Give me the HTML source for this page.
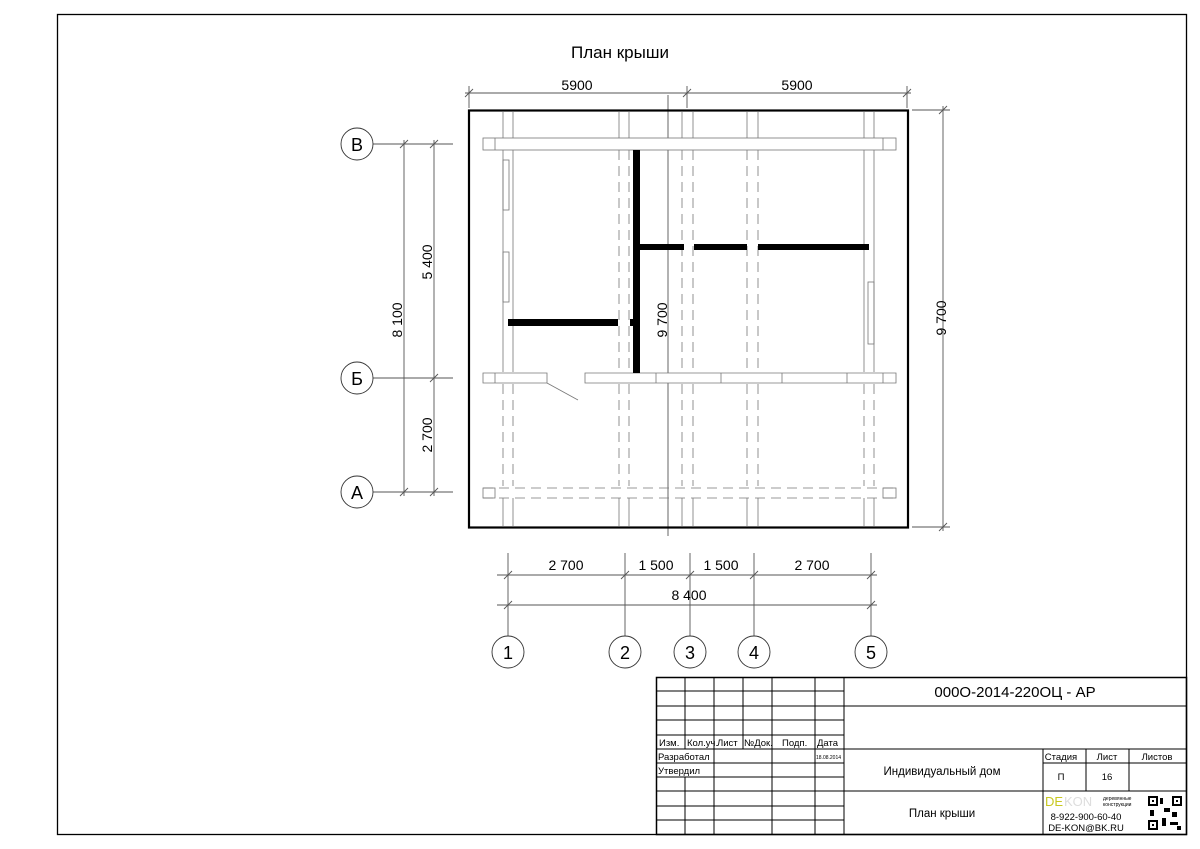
<!DOCTYPE html>
<html><head><meta charset="utf-8"><style>
html,body{margin:0;padding:0;background:#fff}
svg{display:block}
text{font-family:"Liberation Sans",sans-serif;fill:#000}
</style></head><body>
<svg width="1200" height="849" viewBox="0 0 1200 849" xmlns="http://www.w3.org/2000/svg">
<rect x="0" y="0" width="1200" height="849" fill="#fff"/>
<rect x="57.5" y="14.5" width="1129" height="820" fill="none" stroke="#000" stroke-width="1.3"/>
<text x="620" y="58" font-size="17" text-anchor="middle">План крыши</text>

<g stroke="#555" stroke-width="0.9" fill="none">
<line x1="465" y1="93" x2="911" y2="93"/>
<line x1="469" y1="86" x2="469" y2="108"/><line x1="687" y1="86" x2="687" y2="108"/><line x1="907" y1="86" x2="907" y2="108"/>
<line x1="465" y1="97" x2="473" y2="89"/><line x1="683" y1="97" x2="691" y2="89"/><line x1="903" y1="97" x2="911" y2="89"/>
<line x1="943" y1="106" x2="943" y2="531"/>
<line x1="912" y1="110" x2="950" y2="110"/><line x1="912" y1="527" x2="950" y2="527"/>
<line x1="939" y1="114" x2="947" y2="106"/><line x1="939" y1="531" x2="947" y2="523"/>
<line x1="373" y1="144" x2="453" y2="144"/><line x1="373" y1="378" x2="453" y2="378"/><line x1="373" y1="492" x2="453" y2="492"/>
<line x1="404" y1="140" x2="404" y2="496"/><line x1="434" y1="140" x2="434" y2="496"/>
<line x1="400" y1="148" x2="408" y2="140"/><line x1="400" y1="496" x2="408" y2="488"/>
<line x1="430" y1="148" x2="438" y2="140"/><line x1="430" y1="382" x2="438" y2="374"/><line x1="430" y1="496" x2="438" y2="488"/>
<line x1="668" y1="95" x2="668" y2="536"/>
<line x1="497" y1="575" x2="877" y2="575"/><line x1="497" y1="605" x2="877" y2="605"/>
<line x1="508" y1="553" x2="508" y2="636"/><line x1="625" y1="553" x2="625" y2="636"/><line x1="690" y1="553" x2="690" y2="636"/><line x1="754" y1="553" x2="754" y2="636"/><line x1="871" y1="553" x2="871" y2="636"/>
<line x1="504" y1="579" x2="512" y2="571"/><line x1="621" y1="579" x2="629" y2="571"/><line x1="686" y1="579" x2="694" y2="571"/><line x1="750" y1="579" x2="758" y2="571"/><line x1="867" y1="579" x2="875" y2="571"/>
<line x1="504" y1="609" x2="512" y2="601"/><line x1="867" y1="609" x2="875" y2="601"/>
</g>
<g font-size="14">
<text x="577" y="90" text-anchor="middle">5900</text>
<text x="797" y="90" text-anchor="middle">5900</text>
<text transform="translate(946,318) rotate(-90)" text-anchor="middle">9 700</text>
<text transform="translate(667,320) rotate(-90)" text-anchor="middle">9 700</text>
<text transform="translate(402,320) rotate(-90)" text-anchor="middle">8 100</text>
<text transform="translate(432,262) rotate(-90)" text-anchor="middle">5 400</text>
<text transform="translate(432,435) rotate(-90)" text-anchor="middle">2 700</text>
<text x="566" y="570" text-anchor="middle">2 700</text>
<text x="656" y="570" text-anchor="middle">1 500</text>
<text x="721" y="570" text-anchor="middle">1 500</text>
<text x="812" y="570" text-anchor="middle">2 700</text>
<text x="689" y="600" text-anchor="middle">8 400</text>
</g>
<g stroke="#333" stroke-width="0.9" fill="#fff">
<circle cx="357" cy="144" r="16"/><circle cx="357" cy="378" r="16"/><circle cx="357" cy="492" r="16"/>
<circle cx="508" cy="652" r="16"/><circle cx="625" cy="652" r="16"/><circle cx="690" cy="652" r="16"/><circle cx="754" cy="652" r="16"/><circle cx="871" cy="652" r="16"/>
</g>
<g font-size="18" text-anchor="middle">
<text x="357" y="151">В</text><text x="357" y="385">Б</text><text x="357" y="499">А</text>
<text x="508" y="659">1</text><text x="625" y="659">2</text><text x="690" y="659">3</text><text x="754" y="659">4</text><text x="871" y="659">5</text>
</g>

<rect x="469" y="110.5" width="439" height="417" fill="none" stroke="#000" stroke-width="2.2"/>
<g stroke="#777" stroke-width="0.8" fill="none">
<path d="M503 112V372 M513 112V372 M619 112V140 M629 112V140 M682 112V140 M693 112V140 M747 112V140 M758 112V140 M864 112V372 M874 112V372"/>
<path d="M503 498V526 M513 498V526 M619 498V526 M629 498V526 M682 498V526 M693 498V526 M747 498V526 M758 498V526 M864 498V526 M874 498V526"/>
<path stroke-dasharray="10,6" d="M503 384V486 M513 384V486 M619 150V372 M629 150V372 M619 384V486 M629 384V486 M682 150V372 M693 150V372 M682 384V486 M693 384V486 M747 150V372 M758 150V372 M747 384V486 M758 384V486 M864 384V486 M874 384V486"/>
<rect x="483" y="138" width="413" height="12" fill="#fff"/>
<line x1="495" y1="138" x2="495" y2="150"/><line x1="883" y1="138" x2="883" y2="150"/>
<path d="M483 373H547V383H483Z M495 373V383" fill="#fff"/>
<path d="M585 373H896V383H585Z M883 373V383 M656 373V383 M721 373V383 M782 373V383 M847 373V383" fill="#fff"/>
<path d="M547 383L578 400"/>
<path stroke-dasharray="10,6" d="M483 488H896 M483 498H896"/>
<rect x="483" y="488" width="12" height="10"/><rect x="883" y="488" width="13" height="10"/>
<rect x="503" y="160" width="6" height="50"/><rect x="503" y="252" width="6" height="50"/>
<rect x="868" y="282" width="6" height="62"/>
</g>
<g fill="#000">
<rect x="633" y="150" width="7" height="223"/>
<rect x="640" y="244" width="44" height="6"/><rect x="694" y="244" width="53" height="6"/><rect x="758" y="244" width="111" height="6"/>
<rect x="508" y="319" width="110" height="7"/><rect x="630" y="319" width="3" height="7"/>
</g>

<g stroke="#000" stroke-width="1" fill="none">
<rect x="656.5" y="677.5" width="530" height="157" stroke-width="1.5"/>
<path d="M685 677V749 M685 777V834 M714 677V834 M743 677V749 M772 677V834 M815 677V834 M844 677V834"/>
<path d="M656 691H844 M656 706H1186 M656 720H844 M656 735H844 M656 749H1186 M656 763H844 M656 777H844 M656 791H1186 M656 806H844 M656 820H844"/>
<path d="M1043 749V791 M1086 749V791 M1129 749V791 M1043 763H1186 M1043 791V834"/>
</g>
<g font-size="9.5" fill="#000">
<text x="659" y="746">Изм.</text><text x="687" y="746">Кол.уч.</text><text x="717" y="746">Лист</text><text x="744" y="746">№Док.</text><text x="782" y="746">Подп.</text><text x="817" y="746">Дата</text>
<text x="658" y="760">Разработал</text><text x="658" y="774">Утвердил</text>
<text x="816" y="759" font-size="5">18.08.2014</text>
<text x="1061" y="760" text-anchor="middle">Стадия</text><text x="1107" y="760" text-anchor="middle">Лист</text><text x="1157" y="760" text-anchor="middle">Листов</text>
<text x="1061" y="780" text-anchor="middle">П</text><text x="1107" y="780" text-anchor="middle">16</text>
</g>
<text x="1015" y="697" font-size="15" text-anchor="middle">000О-2014-220ОЦ - АР</text>
<text x="942" y="775" font-size="11.5" text-anchor="middle">Индивидуальный дом</text>
<text x="942" y="817" font-size="11.5" text-anchor="middle">План крыши</text>
<text x="1045" y="806" font-size="13" style="fill:#c8c820">DE</text>
<text x="1064" y="806" font-size="13" style="fill:#ddd">KON</text>
<text x="1103" y="800" font-size="5">деревянные</text><text x="1103" y="806" font-size="5">конструкции</text>
<text x="1086" y="820" font-size="9.5" text-anchor="middle">8-922-900-60-40</text>
<text x="1086" y="831" font-size="9.5" text-anchor="middle">DE-KON@BK.RU</text>
<g fill="#000">
<rect x="1148" y="796" width="34" height="34" fill="#fff"/>
<rect x="1148" y="796" width="10" height="10"/><rect x="1172" y="796" width="10" height="10"/><rect x="1148" y="820" width="10" height="10"/>
<rect x="1160" y="798" width="3" height="6"/><rect x="1164" y="808" width="6" height="4"/><rect x="1150" y="810" width="4" height="6"/><rect x="1172" y="812" width="5" height="5"/><rect x="1162" y="818" width="4" height="8"/><rect x="1170" y="822" width="8" height="3"/><rect x="1177" y="826" width="4" height="4"/>
</g>
<g fill="#fff"><rect x="1150" y="798" width="6" height="6"/><rect x="1174" y="798" width="6" height="6"/><rect x="1150" y="822" width="6" height="6"/></g>
<g fill="#000"><rect x="1152" y="800" width="2" height="2"/><rect x="1176" y="800" width="2" height="2"/><rect x="1152" y="824" width="2" height="2"/></g>
</svg>
</body></html>
